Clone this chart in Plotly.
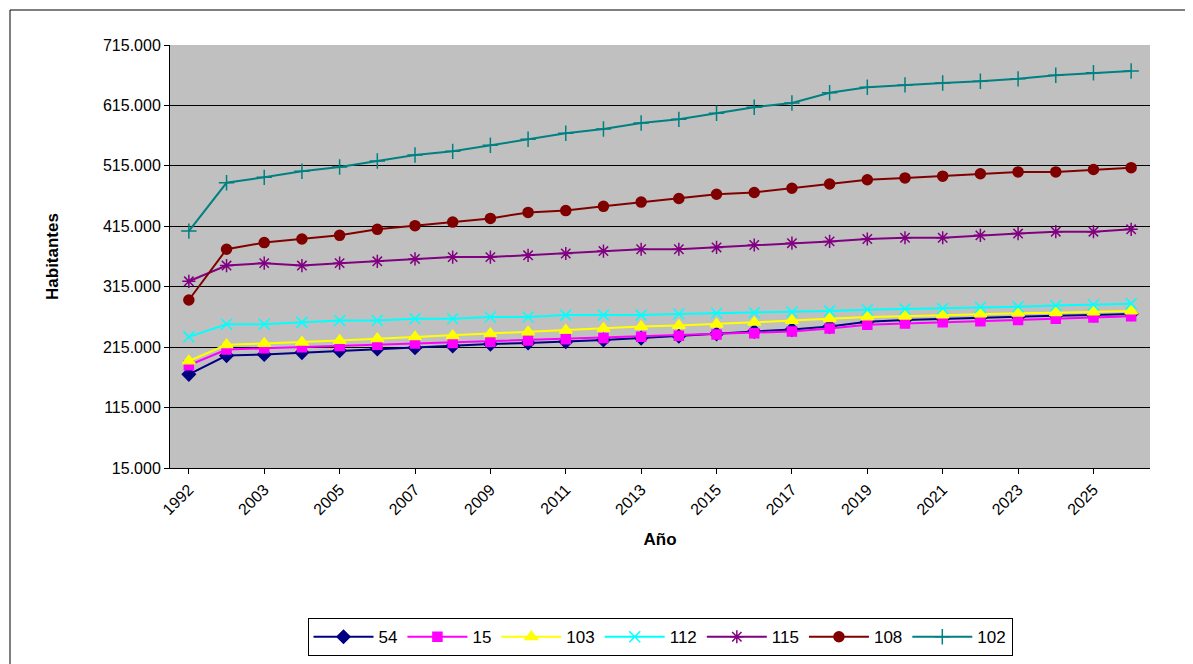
import plotly.graph_objects as go

years = ["1992"] + [str(y) for y in range(2002, 2027)]

s54 = [170, 201, 203, 206, 209, 212, 214, 217, 220, 222, 224, 227, 230, 233, 237, 241, 244, 249, 257, 260, 262, 264, 265, 267, 268, 270]
s15 = [185, 211, 213, 215, 217, 219, 221, 222, 224, 226, 228, 230, 232, 234, 236, 238, 241, 246, 252, 254, 256, 258, 260, 262, 264, 266]
s103 = [192, 219, 221, 223, 226, 229, 232, 234, 237, 240, 243, 246, 249, 251, 253, 256, 259, 262, 265, 266, 268, 270, 271, 272, 273, 275]
s112 = [232, 253, 253, 256, 259, 259, 262, 262, 265, 265, 268, 268, 268, 270, 271, 272, 273, 275, 277, 278, 279, 281, 282, 284, 285, 287]
s115 = [324, 350, 354, 350, 354, 357, 361, 364, 364, 367, 370, 374, 377, 377, 380, 384, 387, 390, 394, 396, 396, 400, 403, 406, 406, 410]
s108 = [293, 377, 388, 394, 400, 410, 416, 422, 428, 438, 441, 448, 455, 461, 468, 471, 478, 485, 492, 495, 498, 502, 505, 505, 509, 512]
s102 = [407, 487, 496, 506, 513, 523, 533, 539, 549, 559, 569, 576, 586, 592, 602, 612, 619, 636, 645, 649, 652, 655, 659, 665, 669, 672]

series = [
    ("54", s54, "#000080", "diamond", 10),
    ("15", s15, "#FF00FF", "square", 9),
    ("103", s103, "#FFFF00", "triangle-up", 11),
    ("112", s112, "#00FFFF", "x-thin-open", 11),
    ("115", s115, "#800080", "asterisk-open", 11),
    ("108", s108, "#800000", "circle", 10),
    ("102", s102, "#008080", "cross-thin-open", 11),
]

fig = go.Figure()
for name, vals, col, sym, size in series:
    fig.add_trace(go.Scatter(
        x=years, y=[v * 1000 for v in vals], name=name, mode="lines+markers",
        line=dict(color=col, width=2),
        marker=dict(symbol=sym, size=size, color=col, line=dict(color=col, width=1.5)),
    ))

ticks = list(range(15000, 715001, 100000))
fig.update_layout(
    width=1193, height=664,
    paper_bgcolor="white", plot_bgcolor="#C0C0C0",
    margin=dict(l=162, r=51, t=37, b=204),
    font=dict(family="Arial, Liberation Sans", size=16, color="black"),
    showlegend=True,
    legend=dict(orientation="h", x=0.5, xanchor="center", y=-0.4, yanchor="middle",
                bordercolor="black", borderwidth=1, font=dict(size=17), itemwidth=60),
    xaxis=dict(type="category", range=[-0.5, 25.5], tickvals=years[::2], tickangle=-45,
               title=dict(text="<b>Año</b>", font=dict(size=17)),
               showline=True, linecolor="black", ticks="outside", tickcolor="black",
               showgrid=False, mirror=False),
    yaxis=dict(range=[15000, 715000], tickvals=ticks,
               ticktext=[f"{t:,}".replace(",", ".") for t in ticks],
               title=dict(text="<b>Habitantes</b>", font=dict(size=17), standoff=40),
               showline=True, linecolor="black", ticks="outside", tickcolor="black",
               showgrid=True, gridcolor="black", gridwidth=1, zeroline=False),
)
fig.add_shape(type="rect", xref="paper", yref="paper",
              x0=(2 - 162) / 980, x1=(1188 - 162) / 980,
              y0=(460 - 660) / 423, y1=(460 - 2) / 423,
              line=dict(color="black", width=1))
fig.write_html("out.html")
